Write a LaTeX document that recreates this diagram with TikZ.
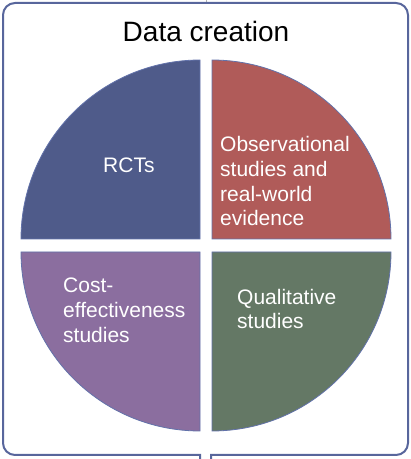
\documentclass[tikz,border=0pt]{standalone}
\usepackage{fontspec}
\setmainfont{Liberation Sans}

\definecolor{framecol}{RGB}{88,102,156}
\definecolor{edgecol}{RGB}{98,114,170}
\definecolor{rctcol}{RGB}{79,91,138}
\definecolor{obscol}{RGB}{176,91,89}
\definecolor{costcol}{RGB}{139,110,159}
\definecolor{qualcol}{RGB}{100,120,101}

\tikzset{
  quarter/.style={draw=edgecol, line width=0.8pt},
  quadtext/.style={text=white, font=\fontsize{21}{25}\selectfont, align=left, anchor=base west, inner sep=0pt}
}

\begin{document}
\begin{tikzpicture}[x=1pt,y=1pt]
\useasboundingbox (0,0) rectangle (411,459);

% frame round the whole group, open at the bottom
\draw[gray!60, line width=0.6pt] (206,459) -- (206,456);
\draw[framecol, line width=2pt] (200,0) -- (200,4) -- (15,4)
  arc[start angle=270,end angle=180,radius=12] -- (3,444)
  arc[start angle=180,end angle=90,radius=12] -- (396,456)
  arc[start angle=90,end angle=0,radius=12] -- (408,16)
  arc[start angle=0,end angle=-90,radius=12] -- (211,4) -- (211,0);

\node[font=\fontsize{28}{34}\selectfont, anchor=base] (title) at (206,417) {Data creation};

% the four quarters
\draw[quarter, fill=rctcol] (200,220) -- (200,399) arc[start angle=90,end angle=180,radius=179] -- cycle;
\draw[quarter, fill=obscol] (212,220) -- (391,220) arc[start angle=0,end angle=90,radius=179] -- cycle;
\draw[quarter, fill=costcol] (200,207) -- (21,207) arc[start angle=180,end angle=270,radius=179] -- cycle;
\draw[quarter, fill=qualcol] (212,207) -- (212,28) arc[start angle=270,end angle=360,radius=179] -- cycle;

% base anchor of a multi-line node sits on its last line
\node[quadtext] (rct) at (103,286) {RCTs};
\node[quadtext] (obs) at (220,233) {Observational\\studies and\\real-world\\evidence};
\node[quadtext] (cost) at (63,117) {Cost-\\effectiveness\\studies};
\node[quadtext] (qual) at (237,130) {Qualitative\\studies};
\end{tikzpicture}
\end{document}
